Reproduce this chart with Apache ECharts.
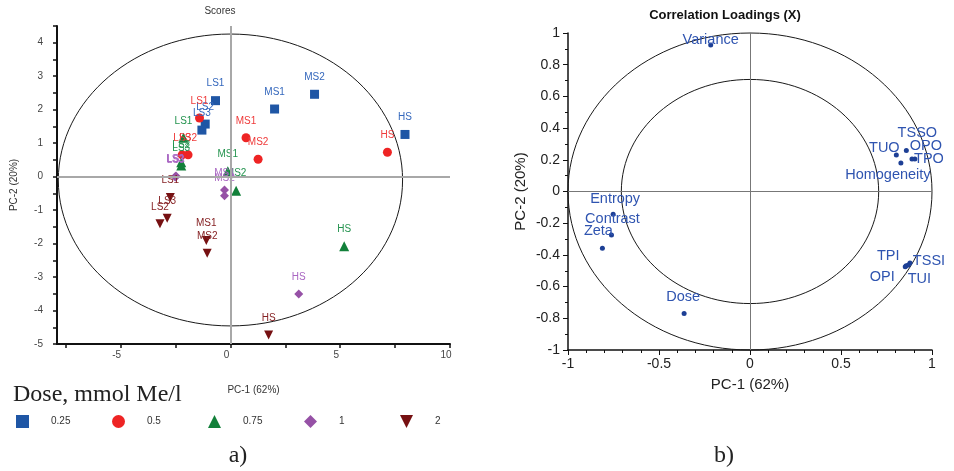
<!DOCTYPE html>
<html><head><meta charset="utf-8">
<script src="https://cdn.jsdelivr.net/npm/echarts@6/dist/echarts.min.js"></script>
<style>html,body{margin:0;padding:0;background:#fff}#c{width:954px;height:471px}</style>
</head><body><div id="c"></div>
<script>
// ---------- DATA ----------
const doses = ['0.25', '0.5', '0.75', '1', '2'];
const sampleNames = ['LS1', 'LS2', 'LS3', 'MS1', 'MS2', 'HS'];
// Scores (PC-1, PC-2) per dose, in sampleNames order
const pc1Dose025 = [-0.68, -1.15, -1.30, 2.01, 3.83, 7.95];
const pc2Dose025 = [2.27, 1.57, 1.39, 2.02, 2.46, 1.26];
const pc1Dose05 = [-1.41, -1.93, -2.20, 0.71, 1.26, 7.15];
const pc2Dose05 = [1.75, 0.65, 0.65, 1.16, 0.52, 0.73];
const pc1Dose075 = [-2.14, -2.24, -2.24, -0.12, 0.26, 5.18];
const pc2Dose075 = [1.16, 0.43, 0.33, 0.16, -0.42, -2.08];
const pc1Dose1 = [-2.48, -2.52, -2.50, -0.27, -0.27, 3.11];
const pc2Dose1 = [0.02, 0.00, -0.01, -0.40, -0.57, -3.51];
const pc1Dose2 = [-2.74, -3.21, -2.88, -1.10, -1.06, 1.74];
const pc2Dose2 = [-0.62, -1.41, -1.24, -1.91, -2.29, -4.73];
// Hotelling ellipse (centre x, centre y, radius x, radius y) in score units
const scoreEllipse = [0, -0.1, 7.84, 4.36];
// Score-plot tick labels
const scoreXTicks = [-7.5, -5, -2.5, 0, 2.5, 5, 7.5, 10];
const scoreXLabels = [-5, 0, 5, 10];
const scoreYTicks = [-5, -4.5, -4, -3.5, -3, -2.5, -2, -1.5, -1, -0.5, 0, 0.5, 1, 1.5, 2, 2.5, 3, 3.5, 4, 4.5];
const scoreYLabels = [-5, -4, -3, -2, -1, 0, 1, 2, 3, 4];

// Correlation loadings
const loadNames = ['Variance', 'TSSO', 'OPO', 'TUO', 'TPO', 'Homogeneity', 'TPI', 'TSSI', 'OPI', 'TUI', 'Entropy', 'Contrast', 'Zeta', 'Dose'];
const loadPC1 = [-0.216, 0.859, 0.906, 0.804, 0.890, 0.829, 0.858, 0.879, 0.853, 0.870, -0.752, -0.761, -0.811, -0.362];
const loadPC2 = [0.924, 0.259, 0.205, 0.230, 0.205, 0.180, -0.468, -0.451, -0.475, -0.464, -0.143, -0.274, -0.358, -0.770];
// Correlation circles (radius)
const loadCircles = [1, 0.707];

// ---------- STYLE ----------
const doseStyle = [
  { symbol: 'rect', size: 9, color: '#1f56a5', text: '#3568bd' },
  { symbol: 'circle', size: 9, color: '#ee2424', text: '#ef3a3a' },
  { symbol: 'triangle', size: 10, color: '#12803a', text: '#23934e' },
  { symbol: 'diamond', size: 9, color: '#9651a6', text: '#a966c2' },
  { symbol: 'path://M0,0L10,0L5,10Z', size: 9, color: '#761012', text: '#862224' }
];
const loadLabelOffset = {
  'Variance': [0, -5], 'TSSO': [11, -17], 'OPO': [11, -13], 'TUO': [-12, -7], 'TPO': [17, 0],
  'Homogeneity': [-13, 12], 'TPI': [-18, -10], 'TSSI': [19, -2], 'OPI': [-23, 10], 'TUI': [11, 14],
  'Entropy': [2, -15], 'Contrast': [1, -16], 'Zeta': [-4, -17], 'Dose': [-1, -17]
};
const legendLeft = 16, legendPitch = 96;
const pcs = [
  [pc1Dose025, pc2Dose025], [pc1Dose05, pc2Dose05], [pc1Dose075, pc2Dose075],
  [pc1Dose1, pc2Dose1], [pc1Dose2, pc2Dose2]
];

const chart = echarts.init(document.getElementById('c'), null, { renderer: 'canvas' });

const doseSeries = doses.map((d, k) => ({
  name: d,
  type: 'scatter',
  xAxisIndex: 0, yAxisIndex: 0,
  symbol: doseStyle[k].symbol,
  symbolSize: doseStyle[k].size,
  itemStyle: { color: doseStyle[k].color, opacity: 1 },
  z: 4,
  label: {
    show: true, position: 'inside', offset: [0, -17],
    formatter: p => p.name, fontSize: 10, color: doseStyle[k].text,
    fontFamily: 'Liberation Sans, Arial, sans-serif'
  },
  emphasis: { disabled: true },
  data: sampleNames.map((n, i) => ({ name: n, value: [pcs[k][0][i], pcs[k][1][i]] }))
}));

const ellipseItem = (params, api) => {
  const c = api.coord([api.value(0), api.value(1)]);
  const s = api.size([api.value(2), api.value(3)]);
  return {
    type: 'ellipse',
    shape: { cx: c[0], cy: c[1], rx: s[0], ry: s[1] },
    style: { fill: 'none', stroke: '#1a1a1a', lineWidth: 1 }
  };
};

const option = {
  animation: false,
  backgroundColor: '#fff',
  textStyle: { fontFamily: 'Liberation Sans, Arial, sans-serif' },
  grid: [
    { left: 57, top: 26, width: 393, height: 318 },
    { left: 568, top: 33, width: 364, height: 317 }
  ],
  xAxis: [
    {
      gridIndex: 0, type: 'value', min: -7.9, max: 10,
      axisLine: { show: true, onZero: false, lineStyle: { color: '#111', width: 2 } },
      axisTick: { show: true, customValues: scoreXTicks, length: 4, lineStyle: { color: '#111', width: 1.5 } },
      axisLabel: { customValues: scoreXLabels, fontSize: 10, color: '#444', margin: 6, padding: [0, 8, 0, 0] },
      splitLine: { show: false },
      name: 'PC-1 (62%)', nameLocation: 'middle', nameGap: 41,
      nameTextStyle: { fontSize: 10, color: '#333' }
    },
    {
      gridIndex: 1, type: 'value', min: -1, max: 1, interval: 0.5,
      axisLine: { show: true, onZero: false, lineStyle: { color: '#111', width: 1.5 } },
      axisTick: { show: true, length: 5, lineStyle: { color: '#111' } },
      minorTick: { show: true, splitNumber: 5, length: 3, lineStyle: { color: '#111' } },
      axisLabel: { fontSize: 14, color: '#222', margin: 7 },
      splitLine: { show: false },
      name: 'PC-1 (62%)', nameLocation: 'middle', nameGap: 27,
      nameTextStyle: { fontSize: 15, color: '#222' }
    }
  ],
  yAxis: [
    {
      gridIndex: 0, type: 'value', min: -5, max: 4.5,
      axisLine: { show: true, onZero: false, lineStyle: { color: '#111', width: 2 } },
      axisTick: { show: true, customValues: scoreYTicks, length: 4, lineStyle: { color: '#111', width: 1.5 } },
      axisLabel: { customValues: scoreYLabels, fontSize: 10, color: '#444', margin: 14, padding: [0, 0, 12, 0] },
      splitLine: { show: false },
      name: 'PC-2 (20%)', nameLocation: 'middle', nameGap: 38,
      nameTextStyle: { fontSize: 10, color: '#333' }
    },
    {
      gridIndex: 1, type: 'value', min: -1, max: 1, interval: 0.2,
      axisLine: { show: true, onZero: false, lineStyle: { color: '#111', width: 1.5 } },
      axisTick: { show: true, length: 5, lineStyle: { color: '#111' } },
      minorTick: { show: true, splitNumber: 2, length: 3, lineStyle: { color: '#111' } },
      axisLabel: { fontSize: 14, color: '#222', margin: 8 },
      splitLine: { show: false },
      name: 'PC-2 (20%)', nameLocation: 'middle', nameGap: 40,
      nameTextStyle: { fontSize: 15, color: '#222' }
    }
  ],
  legend: doses.map((d, i) => ({
    left: legendLeft + legendPitch * i, top: 415, orient: 'horizontal', padding: 0,
    itemWidth: 13, itemHeight: 13,
    selectedMode: false,
    data: [d],
    textStyle: { fontSize: 10, color: '#333', padding: [0, 0, 0, 17] }
  })),
  graphic: [
    { type: 'text', x: 220, y: 11, style: { text: 'Scores', fontSize: 10, fill: '#333', align: 'center', verticalAlign: 'middle', fontFamily: 'Liberation Sans, Arial' } },
    { type: 'text', x: 725, y: 15, style: { text: 'Correlation Loadings (X)', fontSize: 13, fontWeight: 'bold', fill: '#111', align: 'center', verticalAlign: 'middle', fontFamily: 'Liberation Sans, Arial' } },
    { type: 'text', x: 13, y: 395, style: { text: 'Dose, mmol Me/l', fontSize: 24, fill: '#222', align: 'left', verticalAlign: 'middle', fontFamily: 'Liberation Serif, Times New Roman, serif' } },
    { type: 'text', x: 238, y: 456, style: { text: 'a)', fontSize: 24, fill: '#222', align: 'center', verticalAlign: 'middle', fontFamily: 'Liberation Serif, Times New Roman, serif' } },
    { type: 'text', x: 724, y: 456, style: { text: 'b)', fontSize: 24, fill: '#222', align: 'center', verticalAlign: 'middle', fontFamily: 'Liberation Serif, Times New Roman, serif' } }
  ],
  series: [
    {
      type: 'line', xAxisIndex: 0, yAxisIndex: 0, data: [], z: 1, silent: true,
      markLine: {
        silent: true, symbol: ['none', 'none'], label: { show: false },
        lineStyle: { color: '#a8a8a8', width: 2, type: 'solid' },
        emphasis: { disabled: true },
        data: [{ xAxis: 0 }, { yAxis: 0 }]
      }
    },
    {
      type: 'custom', xAxisIndex: 0, yAxisIndex: 0, z: 2, silent: true, clip: false,
      renderItem: ellipseItem, data: [scoreEllipse]
    },
    ...doseSeries,
    {
      type: 'line', xAxisIndex: 1, yAxisIndex: 1, data: [], z: 1, silent: true,
      markLine: {
        silent: true, symbol: ['none', 'none'], label: { show: false },
        lineStyle: { color: '#777', width: 1, type: 'solid' },
        emphasis: { disabled: true },
        data: [{ xAxis: 0 }, { yAxis: 0 }]
      }
    },
    {
      type: 'custom', xAxisIndex: 1, yAxisIndex: 1, z: 2, silent: true, clip: false,
      renderItem: ellipseItem, data: loadCircles.map(r => [0, 0, r, r])
    },
    {
      type: 'scatter', xAxisIndex: 1, yAxisIndex: 1, z: 4,
      symbol: 'circle', symbolSize: 5,
      itemStyle: { color: '#1d3f95', opacity: 1 },
      label: {
        show: true, position: 'inside',
        formatter: p => p.name, fontSize: 14.5, color: '#2f54b0',
        fontFamily: 'Liberation Sans, Arial, sans-serif'
      },
      emphasis: { disabled: true },
      data: loadNames.map((n, i) => ({
        name: n, value: [loadPC1[i], loadPC2[i]],
        label: { offset: loadLabelOffset[n] }
      }))
    }
  ]
};
chart.setOption(option);
</script></body></html>
